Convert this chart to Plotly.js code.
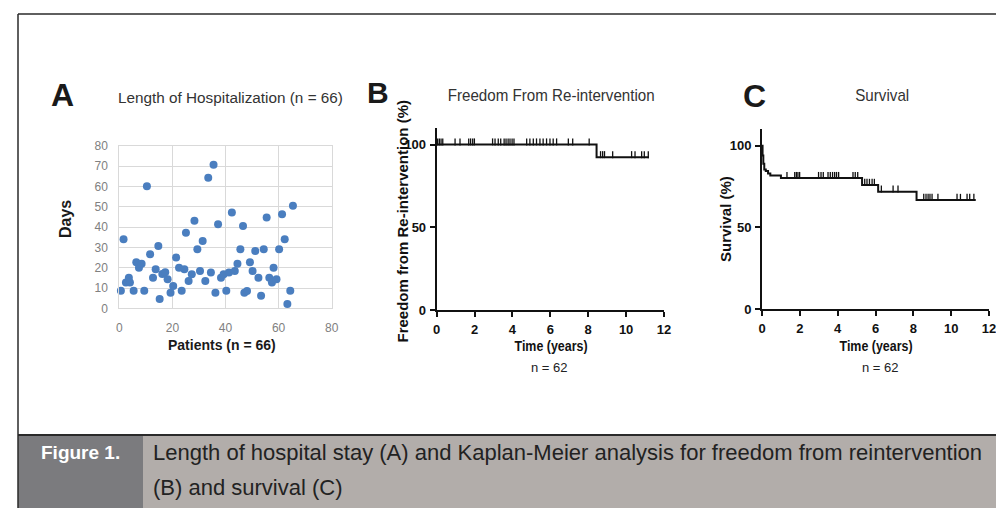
<!DOCTYPE html>
<html>
<head>
<meta charset="utf-8">
<script src="https://cdn.plot.ly/plotly-3.0.1.min.js"></script>
<style>html,body{margin:0;padding:0;background:#fff;}#chart{width:996px;height:508px;}</style>
</head>
<body>
<div id="chart"></div>
<script>
// ---- Panel A: length of hospitalization ----
const patientX = [0.6,1.6,2.5,3.6,4,5.4,6.4,7.4,8.4,9.4,10.4,11.6,12.7,13.7,14.7,15.2,16.2,17.3,18.2,19.3,20.3,21.4,22.5,23.5,24.5,25.1,26.1,27.3,28.3,29.4,30.4,31.4,32.4,33.5,34.5,35.5,36.2,37.2,38.3,39.3,40.3,41.3,42.4,43.5,44.5,45.6,46.6,47.1,48.1,49.2,50.2,51.2,52.4,53.4,54.4,55.5,56.5,57.5,58.1,59.2,60.2,61.3,62.3,63.3,64.4,65.4];
const hospDays = [8.7,34,12.7,15.1,12.7,8.7,22.7,20,21.9,8.7,60.2,26.6,15.1,19.2,30.7,4.6,16.9,17.8,14.3,7.7,11,25,20,8.7,19.2,37.3,13.5,16.8,43.1,29.1,18.4,33.2,13.5,64.4,17.6,70.8,7.7,41.4,15.1,16.8,8.7,17.6,47.2,18.4,21.9,29.1,40.6,7.7,8.5,22.7,18.4,28.3,15.1,6.2,29.1,44.7,15.1,12.7,20,14.3,29.1,46.4,34,2.1,8.7,50.5];
const hospXTicks = [0,20,40,60,80];
const hospYTicks = [0,10,20,30,40,50,60,70,80];

// ---- Panel B: freedom from re-intervention ----
const reintTime = [0, 8.44, 11.2];
const reintPct = [100, 92.3, 92.3];
const reintCensor = [0.05,0.14,0.23,0.32,0.97,1.23,1.69,1.79,1.9,1.99,2.95,3.08,3.25,3.38,3.56,3.66,3.77,3.87,3.98,4.08,4.75,4.92,5.1,5.27,5.45,5.62,5.8,5.98,6.15,6.33,6.95,7.18,8.05,8.65,8.76,8.86,9.29,10.29,10.47,10.82,10.96,11.17];

// ---- Panel C: survival ----
const survTime = [0,0.03,0.07,0.12,0.2,0.32,0.44,1.0,5.29,6.14,8.17,11.3];
const survPct = [100,94,89,85.5,84.5,83,81.7,80.2,76,71.9,66.8,66.8];
const survCensor = [1.32,1.73,1.82,1.9,1.99,2.99,3.12,3.24,3.49,3.61,3.73,3.84,3.94,4.05,4.81,4.93,5.06,5.43,5.55,5.68,5.82,5.94,6.31,6.93,7.19,8.55,8.67,8.78,8.88,8.99,9.3,10.31,10.49,10.84,10.98,11.2];

const kmXTicks = [0,2,4,6,8,10,12];
const kmYTicks = [0,50,100];

function stepAt(times, pcts, t) {
  let v = pcts[0];
  for (let i = 0; i < times.length; i++) { if (times[i] <= t) v = pcts[i]; }
  return v;
}
const W = 996, H = 508;
const px = v => v / W;
const py = v => 1 - v / H;

const SANS = '"Liberation Sans", Arial, sans-serif';
const INK = '#111';
const CENSOR_LIFT = 1.6;

const censorMarker = {symbol: 'line-ns-open', size: 5, color: INK, line: {width: 1.3, color: INK}};

const traces = [
  {type: 'scatter', mode: 'markers', x: patientX, y: hospDays, xaxis: 'x', yaxis: 'y',
   marker: {size: 8, color: '#4a7ebf'}, cliponaxis: false, hoverinfo: 'skip'},
  {type: 'scatter', mode: 'lines', x: reintTime, y: reintPct, xaxis: 'x2', yaxis: 'y2',
   line: {shape: 'hv', color: INK, width: 2}, cliponaxis: false, hoverinfo: 'skip'},
  {type: 'scatter', mode: 'markers', x: reintCensor, y: reintCensor.map(t => stepAt(reintTime, reintPct, t) + CENSOR_LIFT),
   xaxis: 'x2', yaxis: 'y2', marker: censorMarker, cliponaxis: false, hoverinfo: 'skip'},
  {type: 'scatter', mode: 'lines', x: survTime, y: survPct, xaxis: 'x3', yaxis: 'y3',
   line: {shape: 'hv', color: INK, width: 2}, cliponaxis: false, hoverinfo: 'skip'},
  {type: 'scatter', mode: 'markers', x: survCensor, y: survCensor.map(t => stepAt(survTime, survPct, t) + CENSOR_LIFT),
   xaxis: 'x3', yaxis: 'y3', marker: censorMarker, cliponaxis: false, hoverinfo: 'skip'}
];

const aAxisCommon = {showgrid: true, gridcolor: '#d9d9d9', gridwidth: 1, showline: true, linecolor: '#d9d9d9', linewidth: 1,
  mirror: true, zeroline: false, ticks: '', tickfont: {family: SANS, size: 12, color: '#808080'}, ticklabelstandoff: 8, fixedrange: true};
const kmAxisCommon = {showgrid: false, zeroline: false, showline: true, linecolor: INK, linewidth: 2,
  ticks: 'outside', ticklen: 5, tickwidth: 2, tickcolor: INK, ticklabeloverflow: 'allow',
  tickfont: {family: SANS, size: 13, color: INK, weight: 'bold'}, ticklabelstandoff: 1, fixedrange: true};

function ann(text, x, y, opts) {
  return Object.assign({text: text, x: px(x), y: py(y), xref: 'paper', yref: 'paper', showarrow: false,
    xanchor: 'center', yanchor: 'middle', borderpad: 0}, opts || {});
}

// width targets (px) for condensed headings, keyed by annotation index
const condensedWidths = {};
const annotations = [];
function addAnn(text, x, y, opts, width) {
  if (width) condensedWidths[annotations.length] = width;
  annotations.push(ann(text, x, y, opts));
}

addAnn('A', 62.5, 95, {font: {family: SANS, size: 32, color: '#1a1a1a', weight: 'bold'}});
addAnn('Length of Hospitalization (n = 66)', 230, 97, {font: {family: SANS, size: 15.3, color: '#333'}});
addAnn('Days', 65, 219, {textangle: -90, font: {family: SANS, size: 16, color: '#1a1a1a', weight: 'bold'}});
addAnn('Patients (n = 66)', 222, 345, {font: {family: SANS, size: 14, color: '#1a1a1a', weight: 'bold'}});

addAnn('B', 378, 92, {font: {family: SANS, size: 30, color: '#1a1a1a', weight: 'bold'}});
addAnn('Freedom From Re-intervention', 551, 95, {font: {family: SANS, size: 17, color: '#333'}}, 207);
addAnn('Freedom from Re-intervention (%)', 401.5, 221, {textangle: -90, font: {family: SANS, size: 15, color: INK, weight: 'bold'}});
addAnn('Time (years)', 551, 345, {font: {family: SANS, size: 15, color: INK, weight: 'bold'}}, 73);
addAnn('n = 62', 549, 367, {font: {family: SANS, size: 13, color: '#222'}});

addAnn('C', 754, 96, {font: {family: SANS, size: 32, color: '#1a1a1a', weight: 'bold'}});
addAnn('Survival', 882, 95, {font: {family: SANS, size: 17, color: '#333'}}, 54);
addAnn('Survival (%)', 725, 219, {textangle: -90, font: {family: SANS, size: 15, color: INK, weight: 'bold'}});
addAnn('Time (years)', 876, 345, {font: {family: SANS, size: 15, color: INK, weight: 'bold'}}, 73);
addAnn('n = 62', 880, 367, {font: {family: SANS, size: 13, color: '#222'}});

addAnn('Figure 1.', 80, 452, {font: {family: SANS, size: 19, color: '#ffffff', weight: 'bold'}});
addAnn('Length of hospital stay (A) and Kaplan-Meier analysis for freedom from reintervention', 152, 452,
      {xanchor: 'left', font: {family: SANS, size: 22, color: '#222'}});
addAnn('(B) and survival (C)', 152, 487, {xanchor: 'left', font: {family: SANS, size: 22, color: '#222'}});

const shapes = [
  {type: 'rect', xref: 'paper', yref: 'paper', x0: px(143), x1: 1, y0: 0, y1: py(436), fillcolor: '#b2adaa', line: {width: 0}, layer: 'below'},
  {type: 'rect', xref: 'paper', yref: 'paper', x0: px(18), x1: px(143), y0: 0, y1: py(436), fillcolor: '#7b7b7e', line: {width: 0}, layer: 'below'},
  {type: 'line', xref: 'paper', yref: 'paper', x0: px(18), x1: 1, y0: py(435), y1: py(435), line: {color: '#2a2a2a', width: 2}},
  {type: 'line', xref: 'paper', yref: 'paper', x0: px(18), x1: 1, y0: py(14), y1: py(14), line: {color: '#2a2a2a', width: 1.5}},
  {type: 'line', xref: 'paper', yref: 'paper', x0: px(18), x1: px(18), y0: py(14), y1: 0, line: {color: '#2a2a2a', width: 1.5}}
];

const layout = {
  width: W, height: H, autosize: false,
  margin: {l: 0, r: 0, t: 0, b: 0, pad: 0},
  paper_bgcolor: '#ffffff', plot_bgcolor: 'rgba(0,0,0,0)',
  showlegend: false,
  xaxis: Object.assign({}, aAxisCommon, {domain: [px(119.3), px(331.7)], range: [0, 80], tickvals: hospXTicks, anchor: 'y'}),
  yaxis: Object.assign({}, aAxisCommon, {domain: [py(308.3), py(146)], range: [0, 80], tickvals: hospYTicks, anchor: 'x'}),
  xaxis2: Object.assign({}, kmAxisCommon, {domain: [px(436.7), px(664)], range: [0, 12], tickvals: kmXTicks, anchor: 'y2'}),
  yaxis2: Object.assign({}, kmAxisCommon, {domain: [py(310), py(128)], range: [0, 110], tickvals: kmYTicks, anchor: 'x2'}),
  xaxis3: Object.assign({}, kmAxisCommon, {domain: [px(762), px(989)], range: [0, 12], tickvals: kmXTicks, anchor: 'y3'}),
  yaxis3: Object.assign({}, kmAxisCommon, {domain: [py(309.3), py(129.3)], range: [0, 110], tickvals: kmYTicks, anchor: 'x3'}),
  annotations: annotations,
  shapes: shapes
};

function condense(el, width) {
  el.setAttribute('textLength', width);
  el.setAttribute('lengthAdjust', 'spacingAndGlyphs');
}

Plotly.newPlot('chart', traces, layout, {displayModeBar: false, staticPlot: true}).then(function () {
  const root = document.getElementById('chart');
  root.querySelectorAll('g.annotation').forEach(function (g) {
    const idx = +g.getAttribute('data-index');
    if (condensedWidths[idx]) {
      const t = g.querySelector('text.annotation-text');
      if (t) condense(t, condensedWidths[idx]);
    }
  });
  // KM tick labels are drawn in a condensed bold face in the reference
  root.querySelectorAll('.xaxislayer-above text, .yaxislayer-above text').forEach(function (t) {
    const cls = t.getAttribute('class') || '';
    if (/^(x2|y2|x3|y3)tick$/.test(cls)) {
      condense(t, t.getComputedTextLength() * 0.78);
    }
  });
});
</script>
</body>
</html>
